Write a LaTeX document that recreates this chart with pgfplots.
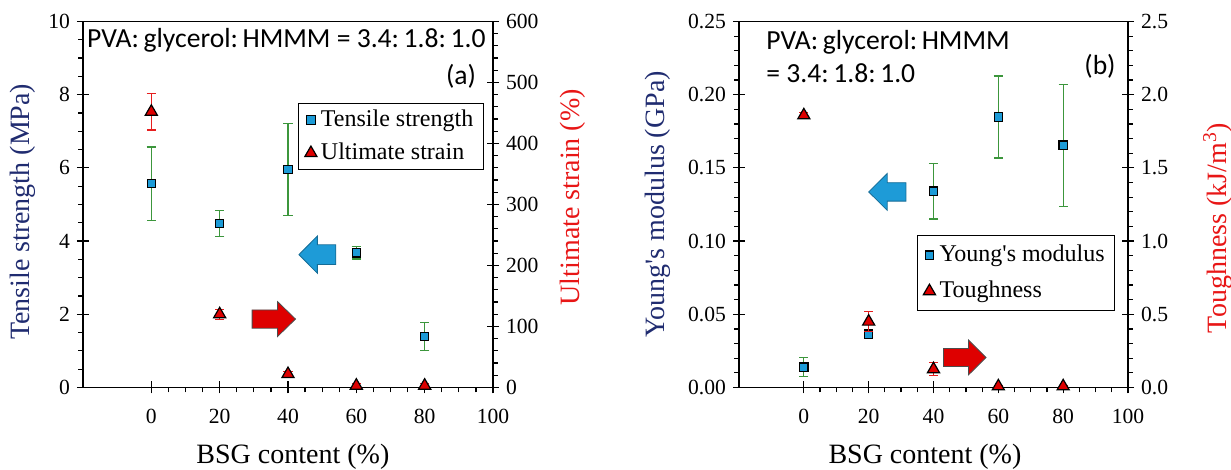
\documentclass[border=0pt]{standalone}
\usepackage{pgfplots}
\pgfplotsset{compat=1.18}
\usepackage{fontspec}
\setmainfont{Liberation Serif}
\newfontfamily\calib{Carlito}
\definecolor{navy}{RGB}{32,44,112}
\definecolor{lblred}{RGB}{232,22,22}
\definecolor{mblue}{RGB}{28,155,215}
\definecolor{mred}{RGB}{222,0,0}
\definecolor{egreen}{RGB}{60,150,60}
\definecolor{ebred}{RGB}{230,30,30}
\definecolor{arblue}{RGB}{30,155,215}
\definecolor{arred}{RGB}{222,0,0}

\pgfplotsset{
  panel/.style={
    scale only axis, height=183pt,
    xmin=-20, xmax=100, xtick={0,20,...,100}, minor x tick num=3,
    tick align=outside, major tick length=3pt, minor tick length=2.4pt,
    tick style={black, line width=0.6pt},
    axis line style={black, line width=0.8pt},
    tick label style={font=\fontsize{10.8}{12}\selectfont},
    xticklabel style={yshift=-4.5pt},
    label style={font=\fontsize{14}{16}\selectfont},
    /pgf/number format/assume math mode=true,
    clip=false,
    xtick pos=bottom,
    legend cell align=left,
    extra tick style={tick align=inside, major tick length=3pt},
  },
  sq/.style={only marks, mark=square*, mark size=2.1pt,
    mark options={fill=mblue, draw=black, line width=0.6pt, solid},
    legend image code/.code={\draw[##1] plot coordinates {(0pt,0pt)};}},
  tri/.style={only marks, mark=triangle*, mark size=3.5pt,
    mark options={fill=mred, draw=black, line width=0.6pt, solid},
    legend image code/.code={\draw[##1] plot coordinates {(0pt,0pt)};}},
  ebg/.style={error bars/.cd, y dir=both, y explicit,
    error bar style={egreen, line width=0.6pt},
    error mark options={egreen, rotate=90, mark size=2.3pt, line width=0.6pt}},
  ebr/.style={error bars/.cd, y dir=both, y explicit,
    error bar style={ebred, line width=0.6pt},
    error mark options={ebred, rotate=90, mark size=2.3pt, line width=0.6pt}},
}

\begin{document}
\begin{tikzpicture}
\useasboundingbox (0,0) rectangle (615.5pt,235pt);

% ---------------- panel (a) ----------------
\begin{axis}[panel, at={(41.5pt,41.25pt)}, anchor=south west, width=205pt,
  ymin=0, ymax=10, ytick={0,2,...,10}, minor y tick num=3, ytick pos=left,
  extra x ticks={0,20,...,100}, extra x tick labels={},
  extra y ticks={0,2,...,10}, extra y tick labels={},
  xlabel={BSG content (\%)}, ylabel={Tensile strength (MPa)},
  ylabel style={navy, at={(axis description cs:-0.146,0.48)}, anchor=center},
  xlabel style={at={(axis description cs:0.512,-0.19)}, anchor=center},
]
\filldraw[fill=arblue, draw=arblue!70!black, line width=0.4pt]
  (axis cs:43.2,3.63) -- (axis cs:48.6,4.14) -- (axis cs:48.6,3.90) -- (axis cs:54,3.90)
  -- (axis cs:54,3.36) -- (axis cs:48.6,3.36) -- (axis cs:48.6,3.12) -- cycle;
\filldraw[fill=arred, draw=black!70, line width=0.4pt]
  (axis cs:42.2,1.87) -- (axis cs:36.9,2.35) -- (axis cs:36.9,2.12) -- (axis cs:29.5,2.12)
  -- (axis cs:29.5,1.62) -- (axis cs:36.9,1.62) -- (axis cs:36.9,1.39) -- cycle;
\addplot[sq, ebg] coordinates {
  (0,5.57) +- (0,1.0)
  (20,4.48) +- (0,0.36)
  (40,5.96) +- (0,1.26)
  (60,3.68) +- (0,0.17)
  (80,1.39) +- (0,0.38)
};
\end{axis}
\begin{axis}[panel, at={(41.5pt,41.25pt)}, anchor=south west, width=205pt,
  axis x line=none, axis y line*=right,
  ymin=0, ymax=600, ytick={0,100,...,600}, minor y tick num=4, ytick pos=right,
  extra y ticks={0,100,...,600}, extra y tick labels={},
  ylabel={Ultimate strain (\%)},
  ylabel style={lblred, at={(axis description cs:1.195,0.52)}, anchor=center},
  legend style={at={(0.525,0.778)}, anchor=north west, draw=black, line width=0.6pt,
    font=\fontsize{12}{13}\selectfont, inner xsep=3pt, inner ysep=2.85pt, row sep=5.5pt,
    nodes={inner xsep=2pt, inner ysep=0pt, text height=8.5pt, text depth=2.5pt},
    /tikz/every even column/.append style={column sep=1.5pt}},
]
\addlegendimage{sq}
\addlegendentry{Tensile strength}
\addplot[tri, ebr] coordinates {
  (0,452) +- (0,30)
  (20,120) +- (0,8)
  (40,22) +- (0,4)
  (60,3) +- (0,3)
  (80,3) +- (0,3)
};
\addlegendentry{Ultimate strain}
\end{axis}

% ---------------- panel (b) ----------------
\begin{axis}[panel, at={(369.5pt,41.25pt)}, anchor=south west, width=194.5pt,
  ymin=0, ymax=0.25, ytick={0,0.05,0.1,0.15,0.2,0.25}, minor y tick num=4, ytick pos=left,
  scaled y ticks=false,
  yticklabel style={/pgf/number format/fixed, /pgf/number format/fixed zerofill, /pgf/number format/precision=2},
  extra x ticks={0,20,...,100}, extra x tick labels={},
  extra y ticks={0,0.05,0.1,0.15,0.2,0.25}, extra y tick labels={},
  xlabel={BSG content (\%)}, ylabel={Young\textquotesingle s modulus (GPa)},
  ylabel style={navy, at={(axis description cs:-0.208,0.5)}, anchor=center},
  xlabel style={at={(axis description cs:0.478,-0.19)}, anchor=center},
]
\filldraw[fill=arblue, draw=arblue!70!black, line width=0.4pt]
  (axis cs:20,0.1336) -- (axis cs:25.7,0.1461) -- (axis cs:25.7,0.1399) -- (axis cs:31.5,0.1399)
  -- (axis cs:31.5,0.1273) -- (axis cs:25.7,0.1273) -- (axis cs:25.7,0.1211) -- cycle;
\filldraw[fill=arred, draw=black!70, line width=0.4pt]
  (axis cs:56.2,0.0205) -- (axis cs:50.8,0.0324) -- (axis cs:50.8,0.0266) -- (axis cs:43.1,0.0266)
  -- (axis cs:43.1,0.0144) -- (axis cs:50.8,0.0144) -- (axis cs:50.8,0.0086) -- cycle;
\addplot[sq, ebg] coordinates {
  (0,0.0139) +- (0,0.0066)
  (20,0.0364) +- (0,0.002)
  (40,0.1341) +- (0,0.019)
  (60,0.1848) +- (0,0.028)
  (80,0.1655) +- (0,0.0416)
};
\end{axis}
\begin{axis}[panel, at={(369.5pt,41.25pt)}, anchor=south west, width=194.5pt,
  axis x line=none, axis y line*=right,
  ymin=0, ymax=2.5, ytick={0,0.5,...,2.5}, minor y tick num=4, ytick pos=right,
  yticklabel style={/pgf/number format/fixed, /pgf/number format/fixed zerofill, /pgf/number format/precision=1},
  extra y ticks={0,0.5,...,2.5}, extra y tick labels={},
  ylabel={Toughness (kJ/m\textsuperscript{3})},
  ylabel style={lblred, at={(axis description cs:1.231,0.436)}, anchor=center},
  legend style={at={(0.457,0.4167)}, anchor=north west, draw=black, line width=0.6pt,
    font=\fontsize{12}{13}\selectfont, inner xsep=3pt, inner ysep=4.3pt, row sep=7pt,
    nodes={inner xsep=2pt, inner ysep=0pt, text height=8.5pt, text depth=2.5pt},
    /tikz/every even column/.append style={column sep=1.5pt}},
]
\addlegendimage{sq}
\addlegendentry{Young\textquotesingle s modulus}
\addplot[tri, ebr] coordinates {
  (0,1.859) +- (0,0.02)
  (20,0.45) +- (0,0.07)
  (40,0.125) +- (0,0.045)
  (60,0.008) +- (0,0.005)
  (80,0.008) +- (0,0.005)
};
\addlegendentry{Toughness}
\end{axis}

% ---------------- annotations ----------------
\node[anchor=base west, font=\calib\fontsize{13.8}{15}\selectfont, inner sep=0] at (43.4pt,211pt)
  {PVA:\,glycerol:\,HMMM = 3.4:\,1.8:\,1.0};
\node[font=\calib\fontsize{13.8}{15}\selectfont, inner sep=0] at (230.5pt,197pt) {(a)};
\node[anchor=base west, font=\calib\fontsize{13.8}{15}\selectfont, inner sep=0] at (383pt,210pt)
  {PVA:\,glycerol:\,HMMM};
\node[anchor=base west, font=\calib\fontsize{13.8}{15}\selectfont, inner sep=0] at (383pt,193.75pt)
  {= 3.4:\,1.8:\,1.0};
\node[font=\calib\fontsize{13.8}{15}\selectfont, inner sep=0] at (550pt,201.75pt) {(b)};
\end{tikzpicture}
\end{document}
